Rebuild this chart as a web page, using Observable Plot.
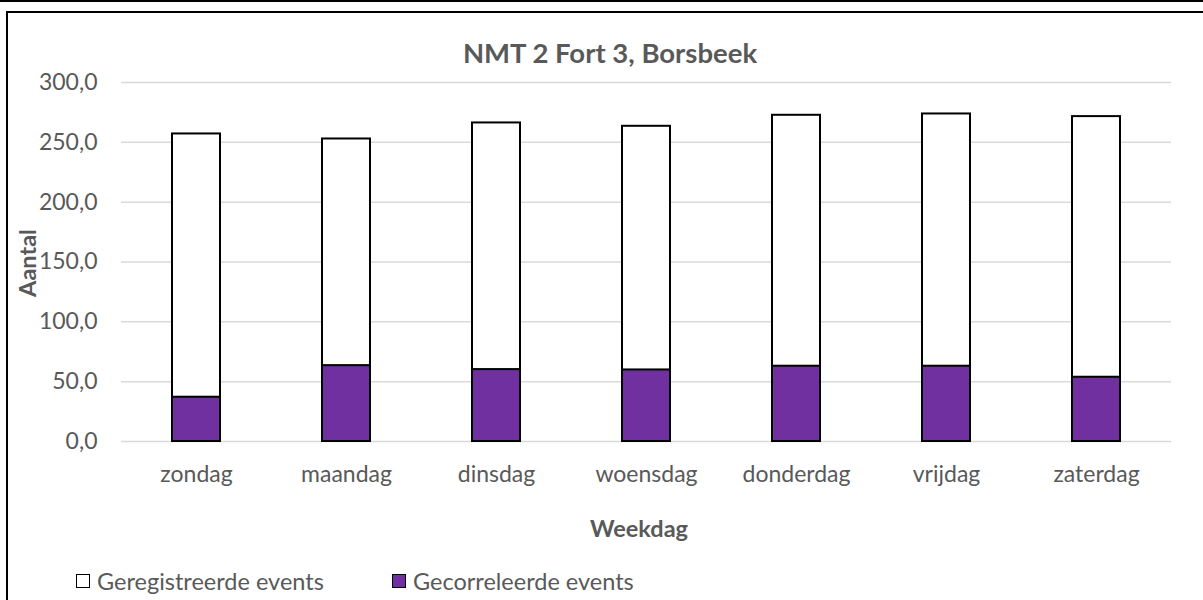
<!DOCTYPE html>
<html>
<head>
<meta charset="utf-8">
<script src="https://cdn.jsdelivr.net/npm/d3@7"></script>
<script src="https://cdn.jsdelivr.net/npm/@observablehq/plot@0.6"></script>
<style>
  html, body { margin: 0; padding: 0; background: #fff; overflow: hidden; }
  body { width: 1203px; height: 600px; position: relative; font-family: Lato, "Open Sans", sans-serif; }
  #topline { position: absolute; left: 0; top: 0; width: 1203px; height: 2px; background: #000; }
  #frame { position: absolute; left: 6px; top: 11px; width: 1210px; height: 620px; border: 2px solid #000; box-sizing: border-box; }
  #title { position: absolute; left: 0; width: 1220px; top: 37px; text-align: center; font-weight: bold; font-size: 27.5px; color: #595959; line-height: 32px; }
  #chart { position: absolute; left: 0; top: 60px; }
  #ylabel { position: absolute; left: 27px; top: 263px; transform: translate(-50%, -50%) rotate(-90deg); font-weight: bold; font-size: 23.5px; color: #595959; white-space: nowrap; line-height: 26px; }
  #xlabel { position: absolute; left: 0; width: 1278px; top: 515px; text-align: center; font-weight: bold; font-size: 23.5px; color: #595959; line-height: 26px; }
  #legend { position: absolute; top: 568px; left: 76px; font-size: 23.5px; color: #595959; line-height: 26px; white-space: nowrap; }
  .item { position: absolute; top: 0; display: flex; align-items: center; }
  .sw { width: 14px; height: 14px; border: 1.5px solid #000; box-sizing: border-box; margin-right: 7px; }
</style>
</head>
<body>
<div id="topline"></div>
<div id="frame"></div>
<div id="title"></div>
<div id="chart"></div>
<div id="ylabel"></div>
<div id="xlabel"></div>
<div id="legend"></div>
<script>
const days = ["zondag", "maandag", "dinsdag", "woensdag", "donderdag", "vrijdag", "zaterdag"];
const registered = [257.0, 252.8, 266.2, 263.4, 272.6, 273.7, 271.5];
const correlated = [37.0, 63.4, 60.1, 59.8, 62.9, 62.9, 53.7];
const yTicks = [0, 50, 100, 150, 200, 250, 300];
const seriesNames = ["Geregistreerde events", "Gecorreleerde events"];
const seriesColors = ["#ffffff", "#7030A0"];
const titleText = "NMT 2 Fort 3, Borsbeek";
const yLabelText = "Aantal";
const xLabelText = "Weekdag";

const dataReg = days.map((d, i) => ({day: d, value: registered[i]}));
const dataCor = days.map((d, i) => ({day: d, value: correlated[i]}));

document.getElementById("title").textContent = titleText;
document.getElementById("ylabel").textContent = yLabelText;
document.getElementById("xlabel").textContent = xLabelText;

const fmt = v => v.toFixed(1).replace(".", ",");

const plot = Plot.plot({
  width: 1203,
  height: 500,
  marginTop: 22,
  marginBottom: 119,
  marginLeft: 121,
  marginRight: 32,
  style: { fontFamily: "Lato, 'Open Sans', sans-serif", fontSize: "23px", color: "#595959", background: "transparent", overflow: "visible" },
  x: { domain: days, paddingInner: 0.68, paddingOuter: 0.34, label: null },
  y: { domain: [0, 300], label: null },
  marks: [
    Plot.gridY(yTicks, { stroke: "#d9d9d9", strokeOpacity: 1, strokeWidth: 1.5 }),
    Plot.axisY(yTicks, { tickSize: 0, tickPadding: 24, tickFormat: fmt, fill: "#595959", fontSize: 23, label: null }),
    Plot.axisX({ tickSize: 0, tickPadding: 24, fill: "#595959", fontSize: 23, label: null }),
    Plot.barY(dataReg, { x: "day", y: "value", fill: seriesColors[0], stroke: "#000", strokeWidth: 2 }),
    Plot.barY(dataCor, { x: "day", y: "value", fill: seriesColors[1], stroke: "#000", strokeWidth: 2 })
  ]
});
document.getElementById("chart").appendChild(plot);

const legend = document.getElementById("legend");
const offsets = [0, 316];
seriesNames.forEach((name, i) => {
  const item = document.createElement("div");
  item.className = "item";
  item.style.left = offsets[i] + "px";
  const sw = document.createElement("span");
  sw.className = "sw";
  sw.style.background = seriesColors[i];
  const t = document.createElement("span");
  t.textContent = name;
  item.appendChild(sw);
  item.appendChild(t);
  legend.appendChild(item);
});
</script>
</body>
</html>
